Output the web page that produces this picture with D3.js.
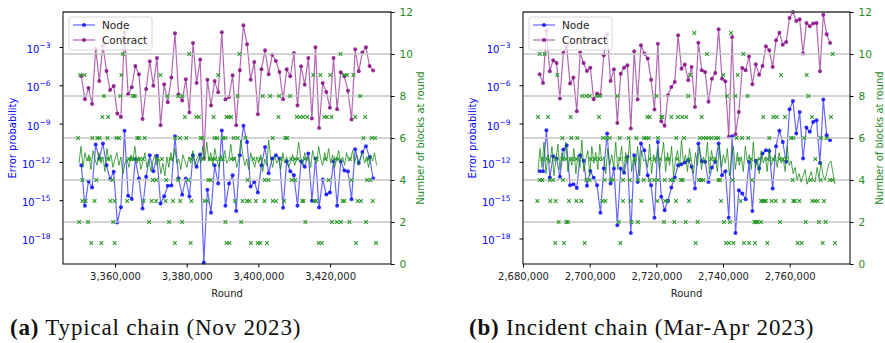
<!DOCTYPE html>
<html>
<head>
<meta charset="utf-8">
<script src="https://cdn.jsdelivr.net/npm/d3@7"></script>
<style>
  body { margin: 0; background: #fff; }
  text { font-family: "DejaVu Sans", sans-serif; }
  text.caption { font-family: "Liberation Serif", serif; letter-spacing: 0.8px; }
</style>
</head>
<body>
<svg id="chart" width="885" height="343"></svg>
<script>
// ---- panel (a): typical chain, Nov 2023 ----
// node / contract error probabilities, stored as log10 values, one sample every ~1000 rounds
const sampleStartA = 3350600
const sampleStepA = 1005
const contractLogA = [
  -5.27, -7.10, -6.21, -7.46, -3.13, -5.66, -2.87, -4.88, -6.37, -6.05, -8.22, -8.48, -1.88, -6.70,
  -6.16, -4.49, -5.14, -8.64, -6.29, -4.12, -6.03, -3.86, -9.13, -5.92, -7.33, -5.40, -1.93, -6.73,
  -7.20, -5.53, -8.14, -2.69, -5.82, -3.99, -11.74, -5.56, -7.59, -5.66, -6.55, -1.85, -7.12,
  -6.91, -5.22, -9.13, -4.83, -1.30, -2.79, -5.56, -4.17, -8.27, -4.75, -3.26, -5.14, -3.60, -4.10,
  -4.96, -7.10, -4.75, -5.30, -3.47, -7.59, -4.51, -5.95, -3.86, -8.61, -3.03, -9.34, -5.82, -6.52,
  -7.77, -3.86, -7.88, -4.98, -5.30, -6.42, -8.69, -3.18, -4.90, -3.44, -3.03, -4.49, -4.85
]
const nodeLogA = [
  -12.26, -15.44, -13.51, -14.01, -10.64, -11.74, -10.57, -12.26, -13.36, -12.78, -16.75, -15.55, -9.57, -14.66,
  -14.90, -11.79, -13.31, -15.65, -13.17, -11.48, -12.73, -11.53, -15.26, -14.69, -13.88, -13.85, -9.99, -13.31,
  -14.58, -13.31, -14.71, -11.48, -12.39, -11.43, -19.88, -14.19, -15.99, -12.26, -13.70, -9.55, -15.44,
  -13.70, -13.04, -15.84, -11.48, -9.18, -10.44, -13.93, -13.57, -14.40, -12.26, -10.83, -12.89, -11.74, -11.48,
  -11.74, -15.60, -11.95, -12.73, -13.04, -15.44, -11.95, -12.39, -11.35, -15.05, -11.74, -15.57, -13.38, -14.56,
  -14.40, -11.95, -15.44, -11.95, -12.68, -12.73, -14.92, -11.01, -12.08, -11.22, -10.77, -11.64, -13.31
]
// smoothed block count line
const lineStartA = 3349960
const lineStepA = 557
const blockLineA = [
  4.8, 5.6, 4.6, 5.3, 4.9, 5.2, 4.5, 5.4, 5.0, 4.7, 5.3, 4.8, 5.1, 4.4, 5.5, 4.9, 5.2, 4.6, 5.0, 5.3,
  4.7, 5.1, 4.3, 4.8, 5.0, 4.6, 5.2, 4.9, 5.6, 4.8, 5.1, 4.5, 4.9, 5.3, 4.6, 5.0, 4.4, 4.9, 5.2, 4.7,
  5.0, 4.3, 4.8, 4.2, 5.1, 4.6, 5.3, 4.9, 5.5, 4.8, 5.0, 4.5, 5.2, 4.9, 4.6, 5.1, 4.8, 5.4, 4.7, 5.0,
  5.2, 4.8, 5.6, 5.0, 5.8, 4.9, 5.3, 4.7, 5.5, 5.0, 4.6, 5.2, 4.9, 5.4, 4.8, 5.0, 5.7, 4.9, 5.1, 4.6,
  5.0, 5.9, 5.2, 4.7, 5.0, 4.5, 5.3, 4.9, 4.6, 5.1, 4.8, 5.2, 4.4, 5.0, 4.7, 5.9, 5.0, 4.6, 5.2, 4.8,
  5.0, 4.5, 5.3, 4.8, 5.1, 4.6, 4.9, 5.2, 4.7, 5.0, 5.8, 5.1, 4.7, 5.3, 4.9, 5.1, 4.6, 5.4, 5.0, 4.8,
  5.6, 5.0, 4.7, 5.3, 4.9, 5.5, 4.8, 5.2, 4.6, 5.0, 5.4, 4.8, 5.1, 4.7, 5.3, 4.9, 5.0, 5.4, 4.8, 5.2,
  4.7, 5.0, 5.3, 4.8, 5.1, 4.6, 5.2, 4.9, 5.3, 4.7
]
// rounds at which a given number of blocks was seen (index = number of blocks)
const blockRoundsA = [
  [],
  [3353400, 3356200, 3359900, 3376700, 3381100, 3391100, 3391900, 3397900, 3399800, 3400500, 3402400, 3416800, 3417700, 3427200, 3432800],
  [3350000, 3352500, 3359500, 3369500, 3375100, 3378700, 3390800, 3395200, 3413100, 3420500, 3421900, 3423000, 3425400, 3430000],
  [3350900, 3351800, 3354300, 3358700, 3359900, 3363400, 3368000, 3370200, 3371500, 3374100, 3376200, 3378200, 3381300, 3385000, 3385800,
   3393500, 3395600, 3396800, 3397500, 3399300, 3401700, 3404000, 3404900, 3407200, 3412200, 3412600, 3415600, 3416100, 3423500, 3424000,
   3427700, 3428600, 3431900],
  [3350900, 3354800, 3359300, 3370600, 3371500, 3374300, 3377600, 3380400, 3386000, 3386700, 3397000, 3401800, 3402800, 3409300, 3410200,
   3419600, 3426000, 3430300, 3431200],
  [3352900, 3355900, 3358100, 3363900, 3364400, 3365200, 3366200, 3366900, 3367800, 3371800, 3373100, 3375500, 3381300, 3384600, 3386400,
   3387200, 3387800, 3389200, 3390100, 3392400, 3393300, 3398600, 3400500, 3406300, 3409100, 3410200, 3411000, 3413000, 3416300, 3418700,
   3421500, 3422200, 3425600, 3430500],
  [3349700, 3353700, 3355100, 3355700, 3357900, 3360400, 3361100, 3366200, 3366700, 3368300, 3376800, 3378100, 3379900, 3383900, 3384400,
   3387800, 3388500, 3390100, 3390800, 3393100, 3394200, 3396400, 3404000, 3407500, 3408000, 3429300, 3431600, 3432500],
  [3356500, 3358100, 3379500, 3382700, 3383400, 3387500, 3391100, 3391700, 3392400, 3405600, 3410700, 3411600, 3412500, 3413600, 3418400,
   3419100, 3420400, 3427000, 3429800],
  [3356900, 3361500, 3365000, 3365500, 3374600, 3377600, 3378800, 3394200, 3401200, 3403300, 3405800, 3408800, 3428400],
  [3350300, 3351500, 3361800, 3372700, 3388800, 3415300, 3417300, 3420000, 3424000, 3424700, 3426500],
  [3362200, 3380700, 3394700, 3422900]
]
const roundTicksA = [3360000, 3380000, 3400000, 3420000]

// ---- panel (b): incident chain, Mar-Apr 2023 ----
const sampleStartB = 2685000
const sampleStepB = 1013
const contractLogB = [
  -5.14, -5.82, -1.72, -4.90, -4.04, -4.25, -7.04, -3.47, -3.00, -5.87, -5.40, -8.04, -3.44, -4.25, -4.88,
  -4.62, -7.10, -6.65, -6.78, -3.65, -2.01, -5.66, -4.75, -8.95, -5.09, -4.62, -4.43, -9.39, -3.34, -7.12,
  -2.87, -3.52, -3.91, -5.56, -7.90, -2.74, -8.82, -9.18, -6.78, -6.13, -5.74, -2.09, -4.70, -4.38, -5.61,
  -4.57, -7.70, -2.66, -4.83, -4.96, -7.30, -5.48, -5.03, -1.62, -5.48, -5.69, -10.04, -2.22, -9.84,
  -8.09, -4.64, -4.83, -3.73, -5.92, -4.36, -5.17, -4.49, -2.95, -3.26, -4.57, -2.48, -1.88, -2.82,
  -2.61, -0.73, -0.26, -0.96, -0.83, -3.52, -1.12, -1.38, -1.17, -1.12, -4.90, -0.47, -2.01, -2.69
]
const nodeLogB = [
  -12.73, -12.73, -9.52, -13.23, -11.56, -11.74, -13.17, -11.04, -10.70, -13.83, -13.75, -14.04, -11.48, -11.92, -13.88,
  -12.71, -13.25, -13.83, -15.99, -12.52, -9.78, -13.70, -12.52, -16.96, -12.52, -12.86, -11.61, -17.58, -11.48, -13.57,
  -10.57, -11.09, -13.04, -13.83, -16.38, -10.44, -14.74, -15.78, -15.05, -14.01, -13.23, -12.26, -12.18, -12.05, -11.87,
  -12.39, -14.09, -10.57, -11.95, -12.00, -13.57, -12.44, -12.00, -10.57, -13.04, -12.73, -16.38, -9.99, -17.58,
  -14.22, -14.48, -14.92, -12.00, -15.84, -11.92, -12.52, -11.35, -11.09, -11.14, -14.09, -10.77, -9.57, -10.44,
  -12.00, -7.88, -7.23, -9.78, -8.09, -11.74, -9.31, -9.65, -8.87, -8.74, -12.08, -7.12, -9.91, -10.31
]
const lineStartB = 2684500
const lineStepB = 598
const blockLineB = [
  4.4, 5.5, 4.6, 5.8, 4.3, 5.2, 4.8, 5.6, 4.2, 5.0, 5.7, 4.5, 5.3, 4.9, 5.8, 4.4, 5.1, 4.7, 5.5, 4.3,
  5.2, 4.6, 5.9, 4.4, 5.0, 5.4, 4.2, 5.6, 4.8, 5.3, 4.5, 5.7, 4.9, 5.1, 4.3, 5.5, 4.7, 5.2, 4.6, 5.8,
  4.5, 5.0, 5.6, 4.3, 5.3, 4.8, 5.9, 4.4, 5.1, 4.7, 5.6, 4.2, 5.4, 4.9, 5.0, 4.6, 5.7, 4.3, 5.2, 4.8,
  5.5, 4.5, 5.1, 5.8, 4.4, 5.3, 4.7, 5.6, 4.2, 5.0, 5.4, 4.6, 5.9, 4.8, 5.2, 4.4, 5.5, 4.9, 4.3, 5.3,
  4.7, 5.6, 4.5, 5.1, 4.8, 5.8, 4.3, 5.4, 4.9, 5.0, 4.4, 5.7, 4.6, 5.2, 4.8, 5.5, 4.2, 5.0, 5.6, 4.5,
  5.3, 4.7, 5.1, 4.4, 5.6, 4.9, 5.2, 4.5, 5.8, 4.6, 5.0, 4.3, 5.4, 4.8, 5.1, 4.4, 5.5, 4.7, 4.9, 5.2,
  4.6, 5.3, 4.8, 5.0, 4.4, 5.6, 4.7, 4.9, 4.3, 4.6,
  4.0, 4.3, 3.9, 4.2, 4.5, 3.8, 4.1, 4.4, 4.0, 3.9, 4.6, 4.1, 4.9, 4.2, 4.0, 4.4, 4.8, 4.9, 4.3, 3.8
]
const blockRoundsB = [
  [],
  [2689700, 2692300, 2698500, 2709200, 2731800, 2740900, 2741800, 2743100, 2746300, 2747800, 2749600, 2753300, 2762400, 2763600,
   2769900, 2773600],
  [2690700, 2693000, 2693500, 2708700, 2712500, 2714500, 2722300, 2725400, 2728800, 2732400, 2740300, 2742100, 2749400, 2749900,
   2750400, 2751400, 2757100, 2764800, 2768800, 2770800],
  [2684300, 2688200, 2689800, 2693800, 2696000, 2697500, 2703800, 2704700, 2710000, 2712200, 2715500, 2720300, 2722600, 2723400,
   2725900, 2729800, 2739400, 2745300, 2751400, 2751900, 2752400, 2752900, 2754600, 2755800, 2758300, 2761100, 2761600, 2762900,
   2766800, 2767600, 2768400, 2770300],
  [2685000, 2685800, 2688000, 2689000, 2692000, 2699000, 2700000, 2704500, 2706300, 2707000, 2710000, 2712000, 2714500, 2716200,
   2718000, 2719400, 2720500, 2722500, 2724300, 2725100, 2727400, 2727900, 2732800, 2733400, 2734100, 2738600, 2739100, 2742900,
   2748700, 2760900, 2766300, 2769300, 2772100, 2772900],
  [2685800, 2687200, 2689800, 2691800, 2693000, 2694800, 2696000, 2700300, 2701500, 2702800, 2709000, 2711000, 2713500, 2718000,
   2719500, 2721200, 2723000, 2723800, 2726200, 2729900, 2736400, 2737700, 2744700, 2748400, 2750900, 2753400, 2755100, 2756900,
   2757900, 2758900, 2767700],
  [2691800, 2694500, 2696300, 2704000, 2705000, 2706000, 2709000, 2711700, 2714000, 2716300, 2717000, 2717700, 2720500, 2726000,
   2728300, 2733100, 2734100, 2734900, 2735700, 2736600, 2737900, 2738600, 2744100, 2745700, 2747600, 2753900, 2760400, 2761100,
   2764400, 2769400, 2771100],
  [2684500, 2687500, 2694300, 2702800, 2717300, 2718000, 2721500, 2721800, 2724500, 2726500, 2727800, 2729000, 2733600, 2752100,
   2755100, 2756100, 2758600, 2766700, 2772400],
  [2697800, 2699000, 2700000, 2702200, 2703000, 2708300, 2720000, 2729600, 2741200, 2743700, 2747400, 2765600],
  [2690300, 2730100, 2740100, 2744400, 2757400, 2765100],
  [2685000, 2686500, 2735200, 2746100, 2772900],
  [2731400, 2742400]
]
const roundTicksB = [2680000, 2700000, 2720000, 2740000, 2760000]

const errTicks = [-18, -15, -12, -9, -6, -3]
const blockTicks = [0, 2, 4, 6, 8, 10, 12]

const blue = "blue", purple = "#800080", green = "#1e8a1e"
const svg = d3.select("#chart")

function drawPanel(p) {
  const top = 12, bottom = 264
  const x = d3.scaleLinear().domain(p.xDomain).range([p.left, p.right])
  const yErr = d3.scaleLog().domain([1e-20, Math.pow(10, -0.26)]).range([bottom, top])
  const yBlk = d3.scaleLinear().domain([0, 12]).range([bottom, top])

  const g = svg.append("g")

  const rounds = p.nodeLog.map((_, i) => p.sampleStart + i * p.sampleStep)
  const errLine = d3.line().x(d => x(d[0])).y(d => yErr(d[1]))

  // node & contract series (left axis)
  const series = [
    {vals: p.nodeLog, color: blue},
    {vals: p.contractLog, color: purple}
  ]
  series.forEach(s => {
    const pts = s.vals.map((v, i) => [rounds[i], Math.pow(10, v)])
    g.append("path")
      .attr("d", errLine(pts))
      .attr("fill", "none")
      .attr("stroke", s.color)
      .attr("stroke-opacity", 0.6)
      .attr("stroke-width", 1.2)
    g.append("g").selectAll("circle")
      .data(pts)
      .join("circle")
        .attr("cx", d => x(d[0]))
        .attr("cy", d => yErr(d[1]))
        .attr("r", 2)
        .attr("fill", s.color)
        .attr("fill-opacity", 0.8)
  })

  // legend
  const lg = g.append("g").attr("transform", `translate(${p.left + 6},17)`)
  lg.append("rect")
    .attr("width", 83).attr("height", 33).attr("rx", 2)
    .attr("fill", "white").attr("fill-opacity", 0.8)
    .attr("stroke", "#cccccc").attr("stroke-width", 0.8)
  ;[["Node", blue], ["Contract", purple]].forEach(([name, c], i) => {
    const yy = 8 + i * 15
    lg.append("line").attr("x1", 4).attr("x2", 26).attr("y1", yy).attr("y2", yy)
      .attr("stroke", c).attr("stroke-opacity", 0.6).attr("stroke-width", 1.2)
    lg.append("circle").attr("cx", 15).attr("cy", yy).attr("r", 2)
      .attr("fill", c).attr("fill-opacity", 0.8)
    lg.append("text").attr("x", 33).attr("y", yy + 4)
      .attr("font-size", 10.5).attr("fill", "#222").text(name)
  })

  // grid from the right axis
  g.append("g").selectAll("line")
    .data(blockTicks.slice(1))
    .join("line")
      .attr("x1", p.left).attr("x2", p.right)
      .attr("y1", d => yBlk(d)).attr("y2", d => yBlk(d))
      .attr("stroke", "#c4c4c4").attr("stroke-width", 1.5)

  // block counts (right axis)
  const blkLine = d3.line().x((d, i) => x(p.lineStart + i * p.lineStep)).y(d => yBlk(d))
  g.append("path")
    .attr("d", blkLine(p.blockLine))
    .attr("fill", "none")
    .attr("stroke", "green")
    .attr("stroke-opacity", 0.7)
    .attr("stroke-width", 1)

  const marks = p.blockRounds.flatMap((rs, n) => rs.map(r => [r, n]))
  g.append("g").selectAll("path")
    .data(marks)
    .join("path")
      .attr("transform", d => `translate(${x(d[0])},${yBlk(d[1])})`)
      .attr("d", "M-1.8,-1.8L1.8,1.8M-1.8,1.8L1.8,-1.8")
      .attr("stroke", "#2a9a2a")
      .attr("stroke-width", 1.1)

  // frame
  g.append("rect")
    .attr("x", p.left).attr("y", top)
    .attr("width", p.right - p.left).attr("height", bottom - top)
    .attr("fill", "none").attr("stroke", "black").attr("stroke-width", 1)

  // axes
  const xAxis = g.append("g")
    .attr("transform", `translate(0,${bottom})`)
    .call(d3.axisBottom(x).tickValues(p.roundTicks).tickFormat(d3.format(",")).tickSize(3.5).tickPadding(5))
  xAxis.select(".domain").remove()
  xAxis.selectAll("text").attr("font-size", 10).attr("fill", "#222")

  const yLeft = g.append("g")
    .attr("transform", `translate(${p.left},0)`)
    .call(d3.axisLeft(yErr).tickValues(errTicks.map(e => Math.pow(10, e))).tickSize(3.5).tickPadding(9))
  yLeft.select(".domain").remove()
  yLeft.selectAll("text")
    .attr("font-size", 10).attr("fill", blue).attr("dy", "0.55em")
    .each(function(d) {
      const t = d3.select(this).text("")
      t.append("tspan").text("10")
      t.append("tspan").attr("dy", -5).attr("font-size", 7.5)
        .text("\u2212" + Math.round(-Math.log10(d)))
    })

  const yRight = g.append("g")
    .attr("transform", `translate(${p.right},0)`)
    .call(d3.axisRight(yBlk).tickValues(blockTicks).tickSize(3.5).tickPadding(5))
  yRight.select(".domain").remove()
  yRight.selectAll("text").attr("font-size", 10.5).attr("fill", green)

  // axis titles
  g.append("text")
    .attr("transform", `translate(${p.left - 47},${(top + bottom) / 2}) rotate(-90)`)
    .attr("text-anchor", "middle").attr("font-size", 10).attr("fill", blue)
    .text("Error probability")
  g.append("text")
    .attr("transform", `translate(${p.right + 33},${(top + bottom) / 2}) rotate(-90)`)
    .attr("text-anchor", "middle").attr("font-size", 10).attr("fill", green)
    .text("Number of blocks at round")
  g.append("text")
    .attr("x", (p.left + p.right) / 2).attr("y", 297)
    .attr("text-anchor", "middle").attr("font-size", 10).attr("fill", "#222")
    .text("Round")

  // caption
  const cap = g.append("text")
    .attr("class", "caption")
    .attr("x", p.capX).attr("y", 335)
    .attr("font-size", 23).attr("fill", "#111")
  cap.append("tspan").attr("font-weight", "bold").text(p.tag)
  cap.append("tspan").text(" " + p.caption)
}

drawPanel({
  left: 63, right: 391, xDomain: [3345500, 3436980],
  sampleStart: sampleStartA, sampleStep: sampleStepA,
  nodeLog: nodeLogA, contractLog: contractLogA,
  lineStart: lineStartA, lineStep: lineStepA, blockLine: blockLineA,
  blockRounds: blockRoundsA, roundTicks: roundTicksA,
  capX: 10, tag: "(a)", caption: "Typical chain (Nov 2023)"
})
drawPanel({
  left: 523, right: 850, xDomain: [2680000, 2778100],
  sampleStart: sampleStartB, sampleStep: sampleStepB,
  nodeLog: nodeLogB, contractLog: contractLogB,
  lineStart: lineStartB, lineStep: lineStepB, blockLine: blockLineB,
  blockRounds: blockRoundsB, roundTicks: roundTicksB,
  capX: 469, tag: "(b)", caption: "Incident chain (Mar-Apr 2023)"
})
</script>
</body>
</html>
